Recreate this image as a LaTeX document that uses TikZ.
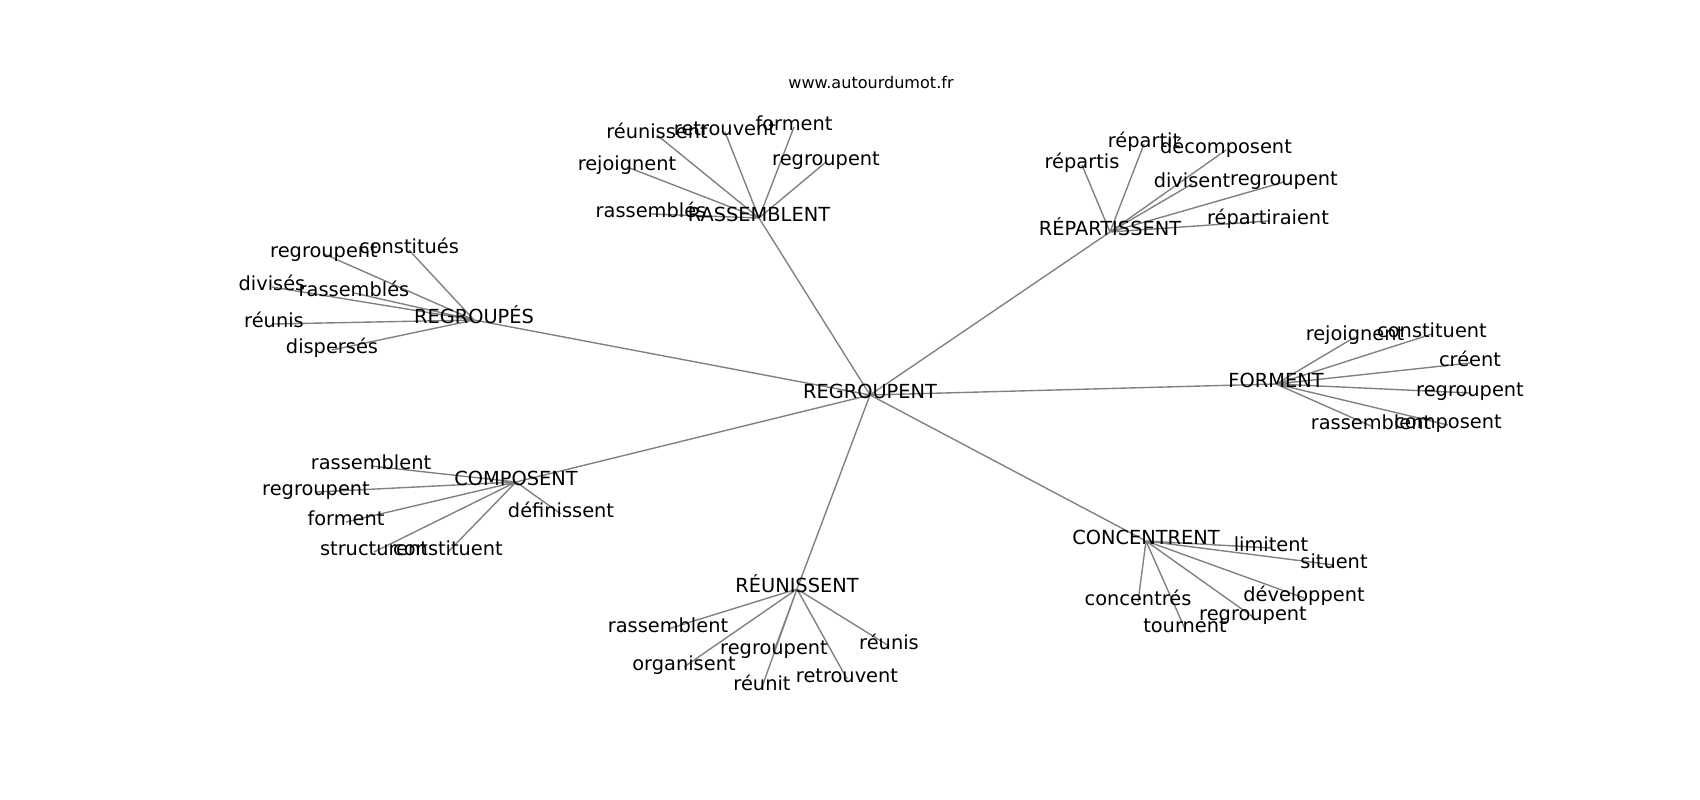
\documentclass[tikz,border=0pt]{standalone}
\usepackage{fontspec}
\setmainfont{DejaVu Sans}
\usepackage{tikz}
\usetikzlibrary{backgrounds}

\begin{document}
\begin{tikzpicture}[x=0.01in, y=-0.01in,
    word/.style={inner sep=0pt, text height=0.76em, text depth=0.24em, font=\fontsize{14}{16}\selectfont},
    link/.style={draw=gray, line width=1pt}]

      \useasboundingbox (0, 0) rectangle (1700, 800);

      \node [inner sep=0pt, font=\fontsize{11.6}{14}\selectfont] (site) at (871, 83) {www.autourdumot.fr};

      % main words
      \node [word] (c) at (870, 395) {REGROUPENT};
      \node [word] (ras) at (759, 218) {RASSEMBLENT};
      \node [word] (rep) at (1110, 232) {RÉPARTISSENT};
      \node [word] (rgs) at (474, 320) {REGROUPÉS};
      \node [word] (frm) at (1276, 384) {FORMENT};
      \node [word] (cmp) at (516, 482) {COMPOSENT};
      \node [word] (reu) at (797, 589) {RÉUNISSENT};
      \node [word] (cnc) at (1146, 541) {CONCENTRENT};

      % around RASSEMBLENT
      \node [word] (ras1) at (657, 135) {réunissent};
      \node [word] (ras2) at (725, 132) {retrouvent};
      \node [word] (ras3) at (794, 127) {forment};
      \node [word] (ras4) at (627, 167) {rejoignent};
      \node [word] (ras5) at (826, 162) {regroupent};
      \node [word] (ras6) at (651, 214) {rassemblés};

      % around RÉPARTISSENT
      \node [word] (rep1) at (1082, 165) {répartis};
      \node [word] (rep2) at (1144, 144) {répartit};
      \node [word] (rep3) at (1226, 150) {décomposent};
      \node [word] (rep4) at (1192, 184) {divisent};
      \node [word] (rep5) at (1284, 182) {regroupent};
      \node [word] (rep6) at (1268, 221) {répartiraient};

      % around REGROUPÉS
      \node [word] (rgs1) at (324, 254) {regroupent};
      \node [word] (rgs2) at (409, 250) {constitués};
      \node [word] (rgs3) at (272, 287) {divisés};
      \node [word] (rgs4) at (354, 293) {rassemblés};
      \node [word] (rgs5) at (274, 324) {réunis};
      \node [word] (rgs6) at (332, 350) {dispersés};

      % around FORMENT
      \node [word] (frm1) at (1355, 337) {rejoignent};
      \node [word] (frm2) at (1432, 334) {constituent};
      \node [word] (frm3) at (1470, 363) {créent};
      \node [word] (frm4) at (1470, 393) {regroupent};
      \node [word] (frm5) at (1371, 426) {rassemblent};
      \node [word] (frm6) at (1448, 425) {composent};

      % around COMPOSENT
      \node [word] (cmp1) at (371, 466) {rassemblent};
      \node [word] (cmp2) at (316, 492) {regroupent};
      \node [word] (cmp3) at (346, 522) {forment};
      \node [word] (cmp4) at (561, 514) {définissent};
      \node [word] (cmp5) at (374, 552) {structurent};
      \node [word] (cmp6) at (448, 552) {constituent};

      % around RÉUNISSENT
      \node [word] (reu1) at (668, 629) {rassemblent};
      \node [word] (reu2) at (684, 667) {organisent};
      \node [word] (reu3) at (774, 651) {regroupent};
      \node [word] (reu4) at (762, 687) {réunit};
      \node [word] (reu5) at (847, 679) {retrouvent};
      \node [word] (reu6) at (889, 646) {réunis};

      % around CONCENTRENT
      \node [word] (cnc1) at (1271, 548) {limitent};
      \node [word] (cnc2) at (1334, 565) {situent};
      \node [word] (cnc3) at (1304, 598) {développent};
      \node [word] (cnc4) at (1253, 617) {regroupent};
      \node [word] (cnc5) at (1138, 602) {concentrés};
      \node [word] (cnc6) at (1185, 629) {tournent};

      \begin{scope}[on background layer]
        \draw [link] (c.center) -- (ras.center) (c.center) -- (rep.center)
          (c.center) -- (rgs.center) (c.center) -- (frm.center)
          (c.center) -- (cmp.center) (c.center) -- (reu.center)
          (c.center) -- (cnc.center);
        \draw [link] (ras.center) -- (ras1.center) (ras.center) -- (ras2.center)
          (ras.center) -- (ras3.center) (ras.center) -- (ras4.center)
          (ras.center) -- (ras5.center) (ras.center) -- (ras6.center);
        \draw [link] (rep.center) -- (rep1.center) (rep.center) -- (rep2.center)
          (rep.center) -- (rep3.center) (rep.center) -- (rep4.center)
          (rep.center) -- (rep5.center) (rep.center) -- (rep6.center);
        \draw [link] (rgs.center) -- (rgs1.center) (rgs.center) -- (rgs2.center)
          (rgs.center) -- (rgs3.center) (rgs.center) -- (rgs4.center)
          (rgs.center) -- (rgs5.center) (rgs.center) -- (rgs6.center);
        \draw [link] (frm.center) -- (frm1.center) (frm.center) -- (frm2.center)
          (frm.center) -- (frm3.center) (frm.center) -- (frm4.center)
          (frm.center) -- (frm5.center) (frm.center) -- (frm6.center);
        \draw [link] (cmp.center) -- (cmp1.center) (cmp.center) -- (cmp2.center)
          (cmp.center) -- (cmp3.center) (cmp.center) -- (cmp4.center)
          (cmp.center) -- (cmp5.center) (cmp.center) -- (cmp6.center);
        \draw [link] (reu.center) -- (reu1.center) (reu.center) -- (reu2.center)
          (reu.center) -- (reu3.center) (reu.center) -- (reu4.center)
          (reu.center) -- (reu5.center) (reu.center) -- (reu6.center);
        \draw [link] (cnc.center) -- (cnc1.center) (cnc.center) -- (cnc2.center)
          (cnc.center) -- (cnc3.center) (cnc.center) -- (cnc4.center)
          (cnc.center) -- (cnc5.center) (cnc.center) -- (cnc6.center);
      \end{scope}

    \end{tikzpicture}
\end{document}
